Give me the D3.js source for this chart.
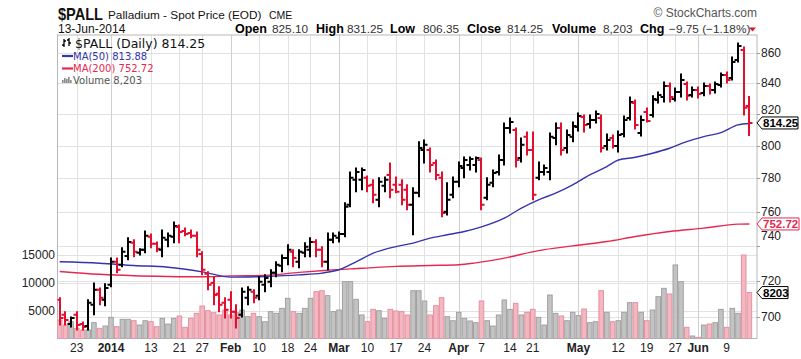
<!DOCTYPE html>
<html><head><meta charset="utf-8">
<script src="https://cdn.jsdelivr.net/npm/d3@7"></script>
<style>
body{margin:0;background:#fff;}
svg{display:block;font-family:"Liberation Sans",Arial,sans-serif;}
</style></head><body>
<svg id="c" width="801" height="359"></svg>
<script>
// ---------------- DATA ----------------
const dates = [
"2013-12-18","2013-12-19","2013-12-20","2013-12-23","2013-12-24","2013-12-26","2013-12-27","2013-12-30","2013-12-31",
"2014-01-02","2014-01-03","2014-01-06","2014-01-07","2014-01-08","2014-01-09","2014-01-10","2014-01-13","2014-01-14","2014-01-15","2014-01-16","2014-01-17","2014-01-21","2014-01-22","2014-01-23","2014-01-24","2014-01-27","2014-01-28","2014-01-29","2014-01-30","2014-01-31",
"2014-02-03","2014-02-04","2014-02-05","2014-02-06","2014-02-07","2014-02-10","2014-02-11","2014-02-12","2014-02-13","2014-02-14","2014-02-18","2014-02-19","2014-02-20","2014-02-21","2014-02-24","2014-02-25","2014-02-26","2014-02-27","2014-02-28",
"2014-03-03","2014-03-04","2014-03-05","2014-03-06","2014-03-07","2014-03-10","2014-03-11","2014-03-12","2014-03-13","2014-03-14","2014-03-17","2014-03-18","2014-03-19","2014-03-20","2014-03-21","2014-03-24","2014-03-25","2014-03-26","2014-03-27","2014-03-28","2014-03-31",
"2014-04-01","2014-04-02","2014-04-03","2014-04-04","2014-04-07","2014-04-08","2014-04-09","2014-04-10","2014-04-11","2014-04-14","2014-04-15","2014-04-16","2014-04-17","2014-04-21","2014-04-22","2014-04-23","2014-04-24","2014-04-25","2014-04-28","2014-04-29","2014-04-30",
"2014-05-01","2014-05-02","2014-05-05","2014-05-06","2014-05-07","2014-05-08","2014-05-09","2014-05-12","2014-05-13","2014-05-14","2014-05-15","2014-05-16","2014-05-19","2014-05-20","2014-05-21","2014-05-22","2014-05-23","2014-05-27","2014-05-28","2014-05-29","2014-05-30",
"2014-06-02","2014-06-03","2014-06-04","2014-06-05","2014-06-06","2014-06-09","2014-06-10","2014-06-11","2014-06-12","2014-06-13"];

const open = [709.6,701.4,696.4,701.4,696.4,695.3,706.8,715.1,709.6,717.9,
730.9,729.2,734.2,741.8,736.0,737.7,745.2,741.2,737.7,743.5,
745.2,751.0,748.6,747.5,745.8,735.4,724.1,719.0,712.9,707.9,
709.6,703.0,701.4,710.7,714.0,711.8,717.9,719.6,724.7,728.6,
733.1,736.6,730.9,736.0,737.7,742.3,737.7,730.9,743.5,744.7,
746.9,764.1,779.0,779.0,780.2,776.0,767.0,775.4,782.0,776.0,
776.0,773.0,764.1,771.2,797.3,797.3,789.3,780.2,759.9,770.0,
777.8,786.2,788.1,788.1,791.1,768.2,777.2,783.8,791.1,811.1,
809.8,792.3,805.5,797.3,780.2,783.8,783.8,804.8,811.1,798.6,
805.5,811.7,818.0,813.6,816.1,817.4,799.8,804.8,799.8,807.3,
817.4,827.0,807.9,821.2,819.3,829.0,830.9,838.0,829.6,834.1,
839.3,832.2,835.4,833.5,838.0,835.4,838.7,845.2,843.2,855.1,
861.8,825.10];
const high = [710.7,703.0,700.2,703.0,697.4,709.6,719.0,716.2,718.5,733.1,
733.1,738.9,744.7,743.5,738.3,748.6,746.9,742.3,749.2,747.5,
753.9,752.1,750.4,749.2,748.1,736.6,725.2,722.4,716.8,710.7,
714.0,706.8,716.2,716.8,715.1,722.4,723.5,726.4,730.9,734.8,
740.6,737.7,737.7,741.8,744.7,743.5,739.5,747.5,747.5,748.1,
765.3,783.8,786.2,786.2,781.4,779.0,780.2,780.8,789.3,780.8,
779.0,776.0,774.2,802.4,803.6,798.6,791.1,783.8,777.2,780.8,
789.9,792.9,792.9,792.9,792.3,780.2,785.0,794.2,814.3,817.4,
811.1,804.8,808.5,808.5,789.9,788.1,807.9,814.3,814.3,809.8,
814.9,820.6,819.3,819.3,821.9,819.3,807.3,806.7,809.2,818.7,
830.9,829.0,818.7,823.8,831.6,834.1,840.6,839.9,836.7,845.9,
840.6,837.4,837.4,839.9,839.3,840.6,846.5,847.2,857.1,866.5,
863.9,831.25];
const low = [695.8,695.8,694.7,693.1,693.1,693.1,701.4,706.8,706.3,716.8,
724.7,728.1,732.0,733.7,734.8,736.0,738.9,736.6,733.7,739.5,
741.8,741.8,745.8,744.7,733.7,723.5,715.1,706.8,703.0,699.6,
699.6,694.2,700.2,706.8,707.9,709.6,714.0,716.8,722.4,725.2,
729.2,728.1,727.5,733.7,733.7,733.7,728.1,726.4,741.8,742.3,
745.2,762.9,771.8,773.0,771.8,765.3,762.9,771.8,768.2,771.2,
764.1,761.1,746.4,768.8,789.3,783.8,779.0,756.9,758.0,768.2,
774.8,780.2,785.0,783.8,761.1,767.0,774.8,782.0,788.1,807.9,
786.9,789.9,794.2,767.0,779.0,782.0,779.0,800.5,794.2,795.5,
802.4,809.2,808.5,811.1,814.3,796.1,797.3,798.6,796.1,805.5,
816.1,810.4,806.1,814.9,818.0,827.0,827.7,827.7,828.3,830.9,
829.0,830.9,830.3,831.6,832.8,833.5,837.4,839.9,841.9,853.8,
819.3,806.35];
const close = [699.6,698.5,699.6,695.8,694.7,707.9,715.1,710.7,716.2,730.9,
726.4,736.6,742.3,736.6,737.7,745.8,741.2,738.3,744.7,745.8,
751.5,748.1,746.9,745.8,737.7,726.4,717.9,712.3,706.8,704.1,
703.0,699.6,714.0,715.1,710.7,719.6,721.8,724.7,729.2,733.1,
737.7,733.1,736.6,739.5,742.3,737.7,730.9,743.5,745.8,746.9,
762.9,780.2,783.8,785.0,775.4,770.0,777.8,779.0,773.0,771.8,
767.0,764.1,771.2,798.6,800.5,788.1,782.0,759.2,767.0,777.8,
787.5,791.1,791.7,792.3,764.1,776.0,783.2,791.1,811.1,814.9,
791.1,800.5,797.3,770.0,783.8,786.2,805.5,811.1,797.3,806.7,
812.4,818.7,813.0,816.1,819.9,798.6,803.6,799.8,806.7,816.1,
827.7,813.0,816.1,815.5,829.6,832.2,838.0,830.9,834.1,841.9,
831.6,835.4,832.8,838.0,835.4,839.3,845.2,841.9,853.8,864.5,
824.0,814.25];
const volume = [3300,2410,3000,1820,1520,1520,2830,1820,2230,3780,
2110,3430,3430,3180,2410,3180,3000,2110,3600,2590,
3600,4020,2000,3600,4500,5800,4970,4610,4200,5090,
4200,4610,5090,3900,4500,3900,3000,4790,4500,5390,
7180,4790,4500,5390,7180,8360,8540,7650,4790,5090,
10150,10150,7000,4200,3000,5210,4970,3600,5210,4910,
4790,4200,8540,8540,6700,4200,5860,7290,3900,3180,
4680,3600,3130,2830,6700,3180,2230,4200,6880,5210,
6290,4200,4680,5210,3780,2410,7770,4500,4020,3180,
4680,4080,5270,2830,3000,8540,4680,3000,3180,4680,
6400,6400,4680,3180,5090,7470,8960,7950,13130,10150,
2000,450,210,2410,2590,2830,5210,2000,5390,4500,
14910,8203];

// moving averages at these dates
const ma50Dates = ["2013-12-18","2013-12-30","2014-01-08","2014-01-16","2014-01-27","2014-02-03","2014-02-11","2014-02-20","2014-02-26","2014-03-03","2014-03-06","2014-03-11","2014-03-17","2014-03-20","2014-03-25","2014-03-28","2014-04-02","2014-04-07","2014-04-11","2014-04-16","2014-04-22","2014-04-25","2014-04-30","2014-05-05","2014-05-08","2014-05-12","2014-05-15","2014-05-20","2014-05-23","2014-05-29","2014-06-03","2014-06-06","2014-06-11","2014-06-13"];
const ma50 = [730.9,730.1,728.8,727.8,725.2,722.2,722.6,723.5,724.5,726.4,730.9,735.8,739.6,741.6,744.5,746.4,748.3,751.0,756.1,762.1,767.0,771.0,776.0,782.0,787.1,791.1,792.8,795.3,798.4,802.5,805.6,808.2,813.0,813.88];
const ma200Dates = ["2013-12-18","2013-12-30","2014-01-08","2014-01-16","2014-01-27","2014-02-03","2014-02-11","2014-02-20","2014-02-27","2014-03-07","2014-03-17","2014-03-25","2014-04-01","2014-04-04","2014-04-11","2014-04-22","2014-04-30","2014-05-08","2014-05-15","2014-05-23","2014-06-03","2014-06-11","2014-06-13"];
const ma200 = [725.4,723.8,723.0,722.6,722.4,722.9,723.2,724.9,726.1,727.2,728.3,728.8,729.2,730.3,733.0,737.3,740.0,742.5,745.4,748.3,750.3,752.6,752.72];

const priceTicks = [700,720,740,760,780,800,820,840,860];
const volumeTicks = [5000,10000,15000];
const xTickDates = ["2013-12-23","2014-01-02","2014-01-13","2014-01-21","2014-01-27","2014-02-03","2014-02-10","2014-02-18","2014-02-24","2014-03-03","2014-03-10","2014-03-17","2014-03-24","2014-04-01","2014-04-07","2014-04-14","2014-04-21","2014-05-01","2014-05-12","2014-05-19","2014-05-27","2014-06-02","2014-06-09"];
const xTickLabels = ["23","2014","13","21","27","Feb","10","18","24","Mar","10","17","24","Apr","7","14","21","May","12","19","27","Jun","9"];
const monthLabels = ["2014","Feb","Mar","Apr","May","Jun"];

// ---------------- CHART ----------------
const svg = d3.select("#c");
const L = 57.5, R = 757, T = 35, B = 338.5;
const x = d3.scalePoint().domain(dates).range([59.7, 749.4]);
const y = d3.scaleLog().domain([700, 860]).range([317.3, 52.7]);
const yv = d3.scaleLinear().domain([0, 15000]).range([B, 254.5]);
const RED = "#e2102e", BLUE = "#3434ad", MARED = "#e4294f";

svg.append("rect").attr("width",801).attr("height",359).attr("fill","#fff");
svg.append("clipPath").attr("id","clip").append("rect")
  .attr("x",L).attr("y",T).attr("width",R-L).attr("height",B-T);

// gridlines
const grid = svg.append("g");
grid.selectAll("line.h").data(priceTicks).join("line")
  .attr("x1",L).attr("x2",R).attr("y1",d=>Math.round(y(d))+0.5).attr("y2",d=>Math.round(y(d))+0.5)
  .attr("stroke","#e2e2e2");
grid.selectAll("line.v").data(volumeTicks).join("line")
  .attr("x1",L).attr("x2",R).attr("y1",d=>Math.round(yv(d))+0.5).attr("y2",d=>Math.round(yv(d))+0.5)
  .attr("stroke","#e2e2e2");
grid.selectAll("line.x").data(xTickDates).join("line")
  .attr("x1",d=>Math.round(x(d))+0.5).attr("x2",d=>Math.round(x(d))+0.5)
  .attr("y1",T).attr("y2",B)
  .attr("stroke",(d,i)=>monthLabels.includes(xTickLabels[i])?"#cfcfcf":"#e2e2e2");

// frame
svg.append("rect").attr("x",L).attr("y",T).attr("width",R-L).attr("height",B-T)
  .attr("fill","none").attr("stroke","#b8b8b8");

const plot = svg.append("g").attr("clip-path","url(#clip)");
const isUp = i => i===0 ? close[0]>=open[0] : close[i]>=close[i-1];

// volume
plot.selectAll("rect.vol").data(dates).join("rect")
  .attr("x",d=>x(d)-2.3).attr("width",4.6)
  .attr("y",(d,i)=>yv(volume[i])).attr("height",(d,i)=>B-yv(volume[i]))
  .attr("fill",(d,i)=>isUp(i)?"#c3c3c3":"#f2b7c1")
  .attr("stroke",(d,i)=>isUp(i)?"#9c9c9c":"#e5899b").attr("stroke-width",0.9);

// moving averages
const lineGen = d3.line().curve(d3.curveMonotoneX);
plot.append("path").attr("d",lineGen(ma200Dates.map((d,i)=>[x(d),y(ma200[i])])))
  .attr("fill","none").attr("stroke",MARED).attr("stroke-width",1.4);
plot.append("path").attr("d",lineGen(ma50Dates.map((d,i)=>[x(d),y(ma50[i])])))
  .attr("fill","none").attr("stroke",BLUE).attr("stroke-width",1.4);

// OHLC bars
const bars = plot.selectAll("g.bar").data(dates).join("g")
  .attr("stroke",(d,i)=>isUp(i)?"#000":RED).attr("stroke-width",2);
bars.append("line").attr("x1",d=>Math.round(x(d))).attr("x2",d=>Math.round(x(d)))
  .attr("y1",(d,i)=>y(high[i])-0.5).attr("y2",(d,i)=>y(low[i])+0.5);
bars.append("line").attr("x1",d=>Math.round(x(d))-3.5).attr("x2",d=>Math.round(x(d)))
  .attr("y1",(d,i)=>y(open[i])).attr("y2",(d,i)=>y(open[i]));
bars.append("line").attr("x1",d=>Math.round(x(d))).attr("x2",d=>Math.round(x(d))+3.5)
  .attr("y1",(d,i)=>y(close[i])).attr("y2",(d,i)=>y(close[i]));

// right price axis
const ra = svg.append("g").attr("font-size",12).attr("fill","#222");
const labelShift = {740:-10, 820:-4};
priceTicks.forEach(p=>{
  const yy = Math.round(y(p))+0.5;
  ra.append("line").attr("x1",R).attr("x2",R+3).attr("y1",yy).attr("y2",yy).attr("stroke","#999");
  ra.append("text").attr("x",761).attr("y",y(p)+4+(labelShift[p]||0)).text(p);
});
// left volume axis
const la = svg.append("g").attr("font-size",12).attr("fill","#222").attr("text-anchor","end");
volumeTicks.forEach(v=>{
  la.append("text").attr("x",55).attr("y",yv(v)+4).text(v);
});
// x axis labels
const xa = svg.append("g").attr("font-size",12).attr("fill","#222").attr("text-anchor","middle");
xTickDates.forEach((d,i)=>{
  xa.append("text").attr("x",x(d)).attr("y",352)
    .attr("font-weight",monthLabels.includes(xTickLabels[i])?"bold":"normal").text(xTickLabels[i]);
});

// value tags on right axis
function tag(yy, txt, color, w){
  const g = svg.append("g");
  g.append("path").attr("d",`M${R},${yy} L${R+5},${yy-6} L${R+5+w},${yy-6} L${R+5+w},${yy+6} L${R+5},${yy+6} Z`)
    .attr("fill","#fff").attr("stroke",color).attr("stroke-width",1);
  g.append("text").attr("x",R+6).attr("y",yy+4).attr("font-size",11.5).attr("font-weight","bold")
    .attr("fill",color).text(txt);
}
const last = dates.length-1;
tag(y(close[last]), d3.format(".2f")(close[last]), "#000", 36);
tag(y(ma200[ma200.length-1]), d3.format(".2f")(ma200[ma200.length-1]), MARED, 37);
tag(yv(volume[last]), String(volume[last]), "#000", 26);

// legend
const lg = svg.append("g").attr("font-family","'DejaVu Sans',Verdana,sans-serif");
const ic = lg.append("g").attr("stroke","#000").attr("stroke-width",1.3);
ic.append("line").attr("x1",64).attr("x2",64).attr("y1",39).attr("y2",47);
ic.append("line").attr("x1",62).attr("x2",64).attr("y1",45).attr("y2",45);
ic.append("line").attr("x1",64).attr("x2",66).attr("y1",41).attr("y2",41);
ic.append("line").attr("x1",69).attr("x2",69).attr("y1",38).attr("y2",46);
ic.append("line").attr("x1",67).attr("x2",69).attr("y1",40).attr("y2",40);
ic.append("line").attr("x1",69).attr("x2",71).attr("y1",43).attr("y2",43);
lg.append("text").attr("x",75).attr("y",47.5).attr("font-size",12.5).attr("fill","#111")
  .text(`$PALL (Daily) ${d3.format(".2f")(close[last])}`);
lg.append("line").attr("x1",62).attr("x2",73).attr("y1",56).attr("y2",56).attr("stroke",BLUE).attr("stroke-width",2.2);
lg.append("text").attr("x",73).attr("y",59.5).attr("font-size",10).attr("fill",BLUE)
  .text(`MA(50) ${d3.format(".2f")(ma50[ma50.length-1])}`);
lg.append("line").attr("x1",62).attr("x2",73).attr("y1",68.5).attr("y2",68.5).attr("stroke",MARED).attr("stroke-width",2.2);
lg.append("text").attr("x",73).attr("y",72).attr("font-size",10).attr("fill",MARED)
  .text(`MA(200) ${d3.format(".2f")(ma200[ma200.length-1])}`);
const vi = lg.append("g").attr("fill","#888");
[[62,80,3],[64,78,5],[66,79,4],[68,77,6],[70,80,3]].forEach(b=>vi.append("rect").attr("x",b[0]).attr("y",b[1]).attr("width",1.6).attr("height",b[2]));
lg.append("text").attr("x",73).attr("y",84).attr("font-size",10).attr("fill","#555")
  .text(`Volume ${d3.format(",")(volume[last])}`);

// header
const hd = svg.append("g").attr("fill","#111");
hd.append("text").attr("x",58).attr("y",19.5).attr("font-size",16.5).attr("font-weight","bold")
  .attr("textLength",45).attr("lengthAdjust","spacingAndGlyphs").text("$PALL");
hd.append("text").attr("x",108).attr("y",19).attr("font-size",11.8).text("Palladium - Spot Price (EOD)");
hd.append("text").attr("x",269).attr("y",19).attr("font-size",10.5).text("CME");
hd.append("text").attr("x",58).attr("y",32.5).attr("font-size",12).text("13-Jun-2014");
const chg = close[last]-close[last-1];
const parts = [
  ["Open",235,true],[d3.format(".2f")(open[last]),272,false],
  ["High",316,true],[d3.format(".2f")(high[last]),347,false],
  ["Low",390,true],[d3.format(".2f")(low[last]),423,false],
  ["Close",467,true],[d3.format(".2f")(close[last]),507,false],
  ["Volume",552,true],[d3.format(",")(volume[last]),603,false],
  ["Chg",640,true],[`${d3.format(".2f")(chg)} (${d3.format(".2f")(chg/close[last-1]*100)}%)`,669,false]
];
parts.forEach(p=>{
  hd.append("text").attr("x",p[1]).attr("y",32.5)
    .attr("font-size",p[2]?12.5:11.8).attr("font-weight",p[2]?"bold":"normal")
    .attr("fill",p[2]?"#000":"#333").text(p[0]);
});
hd.append("path").attr("d","M749,27.5 L756,27.5 L752.5,31.5 Z").attr("fill",RED);
hd.append("text").attr("x",757).attr("y",17).attr("font-size",12).attr("text-anchor","end")
  .attr("fill","#555").text("\u00A9 StockCharts.com");
</script>
</body></html>
